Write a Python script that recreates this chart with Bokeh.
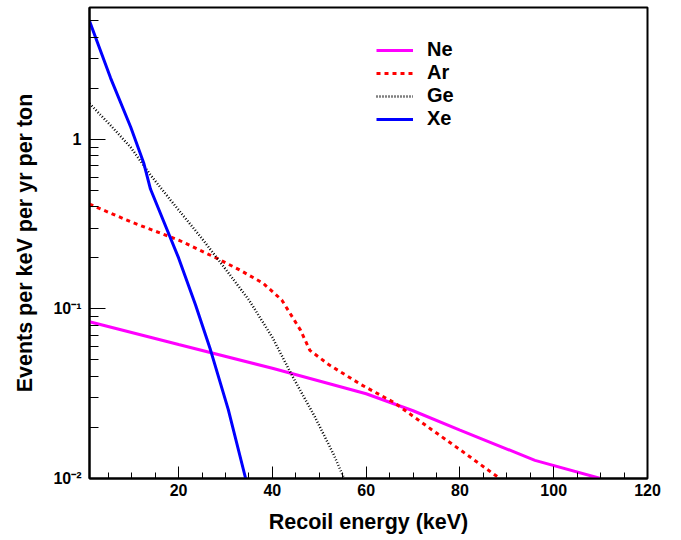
from bokeh.plotting import figure
from bokeh.models import Range1d, SingleIntervalTicker, LogTicker, CustomJSTickFormatter, Legend, LegendItem
from bokeh.embed import file_html
from bokeh.resources import INLINE

# Recoil energy (keV) and event rates (events per keV per yr per ton)
ne_x = [1, 20, 40, 60, 70, 80, 96, 110]
ne_y = [0.084, 0.0617, 0.0447, 0.0316, 0.0251, 0.0193, 0.0128, 0.01]

ar_x = [1, 10, 20, 28, 33, 38, 42, 46, 48, 52, 59, 66, 74, 80, 88.5]
ar_y = [0.415, 0.325, 0.255, 0.2, 0.17, 0.142, 0.113, 0.075, 0.057, 0.047, 0.0357, 0.028, 0.0194, 0.0148, 0.01]

ge_x = [1, 5.5, 9.8, 14, 18.3, 25, 30, 35, 40, 44.3, 49.1, 53.1, 55.3]
ge_y = [1.63, 1.21, 0.897, 0.617, 0.438, 0.26, 0.172, 0.113, 0.068, 0.040, 0.023, 0.0138, 0.01]

xe_x = [1, 5.5, 9.8, 12.6, 14, 20, 23.6, 26.8, 30.6, 34.3]
xe_y = [5.0, 2.3, 1.18, 0.72, 0.51, 0.2, 0.106, 0.0574, 0.0255, 0.01]

labels = ["Ne", "Ar", "Ge", "Xe"]
colors = ["#ff00ff", "#ff0000", "#000000", "#0000ff"]

FONT = "Liberation Sans"
FW, FH = 558, 471

p = figure(frame_width=FW, frame_height=FH,
           x_range=Range1d(1, 120), y_range=Range1d(0.01, 6),
           y_axis_type="log", output_backend="svg", toolbar_location=None,
           min_border_left=89, min_border_right=20, min_border_top=7, min_border_bottom=60)
p.grid.visible = False
p.outline_line_color = "black"
p.outline_line_width = 2
p.background_fill_color = "white"
p.border_fill_color = "white"

xa = p.xaxis[0]
xa.ticker = SingleIntervalTicker(interval=20, num_minor_ticks=4)
xa.axis_label = "Recoil energy (keV)"
ya = p.yaxis[0]
ya.ticker = LogTicker(num_minor_ticks=10)
ya.formatter = CustomJSTickFormatter(code="""
const e = Math.round(Math.log10(tick));
if (e == 0) return "1";
const sup = {"-":"\u207b","0":"\u2070","1":"\u00b9","2":"\u00b2","3":"\u00b3"};
return "10" + String(e).split("").map(c => sup[c]).join("");
""")
ya.axis_label = "Events per keV per yr per ton"

for ax, (maj, mnr) in ((xa, (12, 6)), (ya, (16, 9))):
    ax.axis_line_width = 2
    ax.axis_line_color = "black"
    ax.major_tick_in = maj
    ax.major_tick_out = 0
    ax.minor_tick_in = mnr
    ax.minor_tick_out = 0
    ax.major_tick_line_width = 1
    ax.minor_tick_line_width = 1
    ax.major_label_text_font = FONT
    ax.major_label_text_font_style = "bold"
    ax.major_label_text_font_size = "16px"
    ax.major_label_text_color = "black"
    ax.axis_label_text_font = FONT
    ax.axis_label_text_font_style = "bold"
    ax.axis_label_text_font_size = "21.5px"
    ax.axis_label_text_color = "black"

xa.major_label_standoff = 5
xa.axis_label_standoff = 11
ya.major_label_standoff = 8
ya.axis_label_standoff = 13

r_ne = p.line(ne_x, ne_y, line_color=colors[0], line_width=3)
r_ar = p.line(ar_x, ar_y, line_color=colors[1], line_width=3, line_dash="4 4")
r_ge = p.line(ge_x, ge_y, line_color=colors[2], line_width=2.5, line_dash="1 2")
r_xe = p.line(xe_x, xe_y, line_color=colors[3], line_width=3)

legend = Legend(items=[LegendItem(label=l, renderers=[r]) for l, r in zip(labels, [r_ne, r_ar, r_ge, r_xe])],
                location=(287, 348), orientation="vertical",
                glyph_width=37, glyph_height=20, label_height=20, label_standoff=14,
                spacing=0, padding=0, margin=0,
                border_line_alpha=0, background_fill_alpha=0,
                label_text_font=FONT, label_text_font_style="bold",
                label_text_font_size="20px", label_text_color="black")
p.add_layout(legend, "center")

open("out.html", "w").write(file_html(p, INLINE))
